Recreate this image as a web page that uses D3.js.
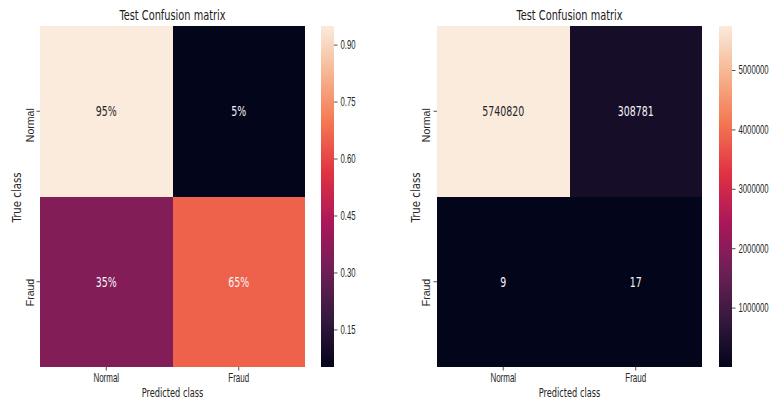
<!DOCTYPE html>
<html>
<head>
<meta charset="utf-8">
<script src="https://cdn.jsdelivr.net/npm/d3@7"></script>
<style>
  html, body { margin: 0; padding: 0; background: #fff; }
  svg { display: block; font-family: "DejaVu Sans", sans-serif; }
  .tick line { stroke: #262626; stroke-width: 0.8; }
  .tick text { fill: #262626; }
</style>
</head>
<body>
<svg id="chart" width="774" height="403"></svg>
<script>
// Class labels shared by both axes
const categories = ["Normal", "Fraud"];

// Raw confusion-matrix counts (rows: true class, columns: predicted class)
const counts = [
  [5740820, 308781],
  [9, 17]
];

// Row-normalised rates derived from the counts
const rates = counts.map(row => row.map(v => v / d3.sum(row)));

// Colour-bar tick values
const rateTicks = [0.15, 0.30, 0.45, 0.60, 0.75, 0.90];
const countTicks = [1000000, 2000000, 3000000, 4000000, 5000000];

// "rocket" sequential palette anchors (evenly spaced from 0 to 1)
const rocketStops = ["#03051a", "#35193e", "#701f57", "#ad1759", "#e13342", "#f37651", "#f6b48f", "#faebdd"];
const rocket = d3.piecewise(d3.interpolateRgb, rocketStops);

const svg = d3.select("#chart");
const defs = svg.append("defs");

// Horizontal squeeze applied to text, about its own anchor point
function squeeze(sel, s) {
  sel.attr("transform", function () {
    const x = +this.getAttribute("x") || 0;
    return `translate(${x},0) scale(${s},1) translate(${-x},0)`;
  });
}

function luminance(c) {
  const rgb = d3.rgb(c);
  const lin = [rgb.r, rgb.g, rgb.b].map(v => {
    v /= 255;
    return v <= 0.03928 ? v / 12.92 : Math.pow((v + 0.055) / 1.055, 2.4);
  });
  return 0.2126 * lin[0] + 0.7152 * lin[1] + 0.0722 * lin[2];
}

function drawPanel(cfg) {
  const { id, x0, x1, cb0, cb1, matrix, fmt, cbTicks, cbFmt, yLabelOff, yTitleOff } = cfg;
  const y0 = 26, y1 = 367;
  const g = svg.append("g");

  const x = d3.scaleBand().domain(categories).range([x0, x1]);
  const y = d3.scaleBand().domain(categories).range([y0, y1]);
  const ext = d3.extent(matrix.flat());
  const color = d3.scaleSequential(rocket).domain(ext);

  const cells = matrix.flatMap((row, i) =>
    row.map((v, j) => ({ r: categories[i], c: categories[j], v })));

  // Heatmap cells
  g.selectAll("rect.cell").data(cells).join("rect")
    .attr("class", "cell")
    .attr("x", d => x(d.c))
    .attr("y", d => y(d.r))
    .attr("width", x.bandwidth())
    .attr("height", y.bandwidth())
    .attr("shape-rendering", "crispEdges")
    .attr("fill", d => color(d.v));

  // Cell annotations
  g.selectAll("text.annot").data(cells).join("text")
    .attr("class", "annot")
    .attr("x", d => x(d.c) + x.bandwidth() / 2)
    .attr("y", d => y(d.r) + y.bandwidth() / 2)
    .attr("dy", "0.36em")
    .attr("text-anchor", "middle")
    .attr("font-size", 13.5)
    .attr("fill", d => luminance(color(d.v)) > 0.408 ? "#262626" : "#f4f4f4")
    .text(d => fmt(d.v))
    .call(squeeze, 0.70);

  // Title
  g.append("text")
    .attr("x", (x0 + x1) / 2)
    .attr("y", 20)
    .attr("text-anchor", "middle")
    .attr("font-size", 14)
    .attr("fill", "#1a1a1a")
    .text("Test Confusion matrix")
    .call(squeeze, 0.70);

  // Bottom axis
  const xAxis = g.append("g")
    .attr("transform", `translate(0,${y1})`)
    .call(d3.axisBottom(x).tickSize(3.5).tickPadding(3));
  xAxis.select(".domain").remove();
  xAxis.selectAll("text").attr("font-size", 12.3).call(squeeze, 0.65);

  g.append("text")
    .attr("x", (x0 + x1) / 2)
    .attr("y", 397.5)
    .attr("text-anchor", "middle")
    .attr("font-size", 12.3)
    .attr("fill", "#262626")
    .text("Predicted class")
    .call(squeeze, 0.67);

  // Left axis with rotated labels
  const yAxis = g.append("g")
    .attr("transform", `translate(${x0},0)`)
    .call(d3.axisLeft(y).tickSize(3.5));
  yAxis.select(".domain").remove();
  yAxis.selectAll("text")
    .attr("x", null).attr("y", null).attr("dy", null)
    .attr("text-anchor", "end")
    .attr("font-size", 11.6)
    .attr("transform", `translate(${yLabelOff},-3) scale(1,0.91) rotate(-90)`);

  g.append("text")
    .attr("transform", `translate(${x0 + yTitleOff},${(y0 + y1) / 2 + 1}) scale(1,0.88) rotate(-90)`)
    .attr("text-anchor", "middle")
    .attr("font-size", 11.6)
    .attr("fill", "#262626")
    .text("True class");

  // Colour bar
  const gradId = `grad-${id}`;
  const grad = defs.append("linearGradient")
    .attr("id", gradId)
    .attr("x1", 0).attr("y1", 1).attr("x2", 0).attr("y2", 0);
  d3.range(0, 1.0001, 1 / 64).forEach(t => {
    grad.append("stop").attr("offset", t).attr("stop-color", rocket(t));
  });
  g.append("rect")
    .attr("x", cb0).attr("y", y0)
    .attr("width", cb1 - cb0).attr("height", y1 - y0)
    .attr("fill", `url(#${gradId})`);

  const cbScale = d3.scaleLinear().domain(ext).range([y1, y0]);
  const cbAxis = g.append("g")
    .attr("transform", `translate(${cb1},0)`)
    .call(d3.axisRight(cbScale).tickValues(cbTicks).tickFormat(cbFmt).tickSize(3.5).tickPadding(3));
  cbAxis.select(".domain").remove();
  cbAxis.selectAll("text").attr("font-size", 12.3).call(squeeze, 0.63);
}

drawPanel({
  id: "rate", x0: 40, x1: 305, cb0: 321, cb1: 334,
  matrix: rates, fmt: d3.format(".0%"),
  cbTicks: rateTicks, cbFmt: d3.format(".2f"),
  yLabelOff: -5.7, yTitleOff: -19
});

drawPanel({
  id: "count", x0: 437, x1: 702, cb0: 719, cb1: 732,
  matrix: counts, fmt: d3.format("d"),
  cbTicks: countTicks, cbFmt: d3.format("d"),
  yLabelOff: -7.3, yTitleOff: -17
});
</script>
</body>
</html>
